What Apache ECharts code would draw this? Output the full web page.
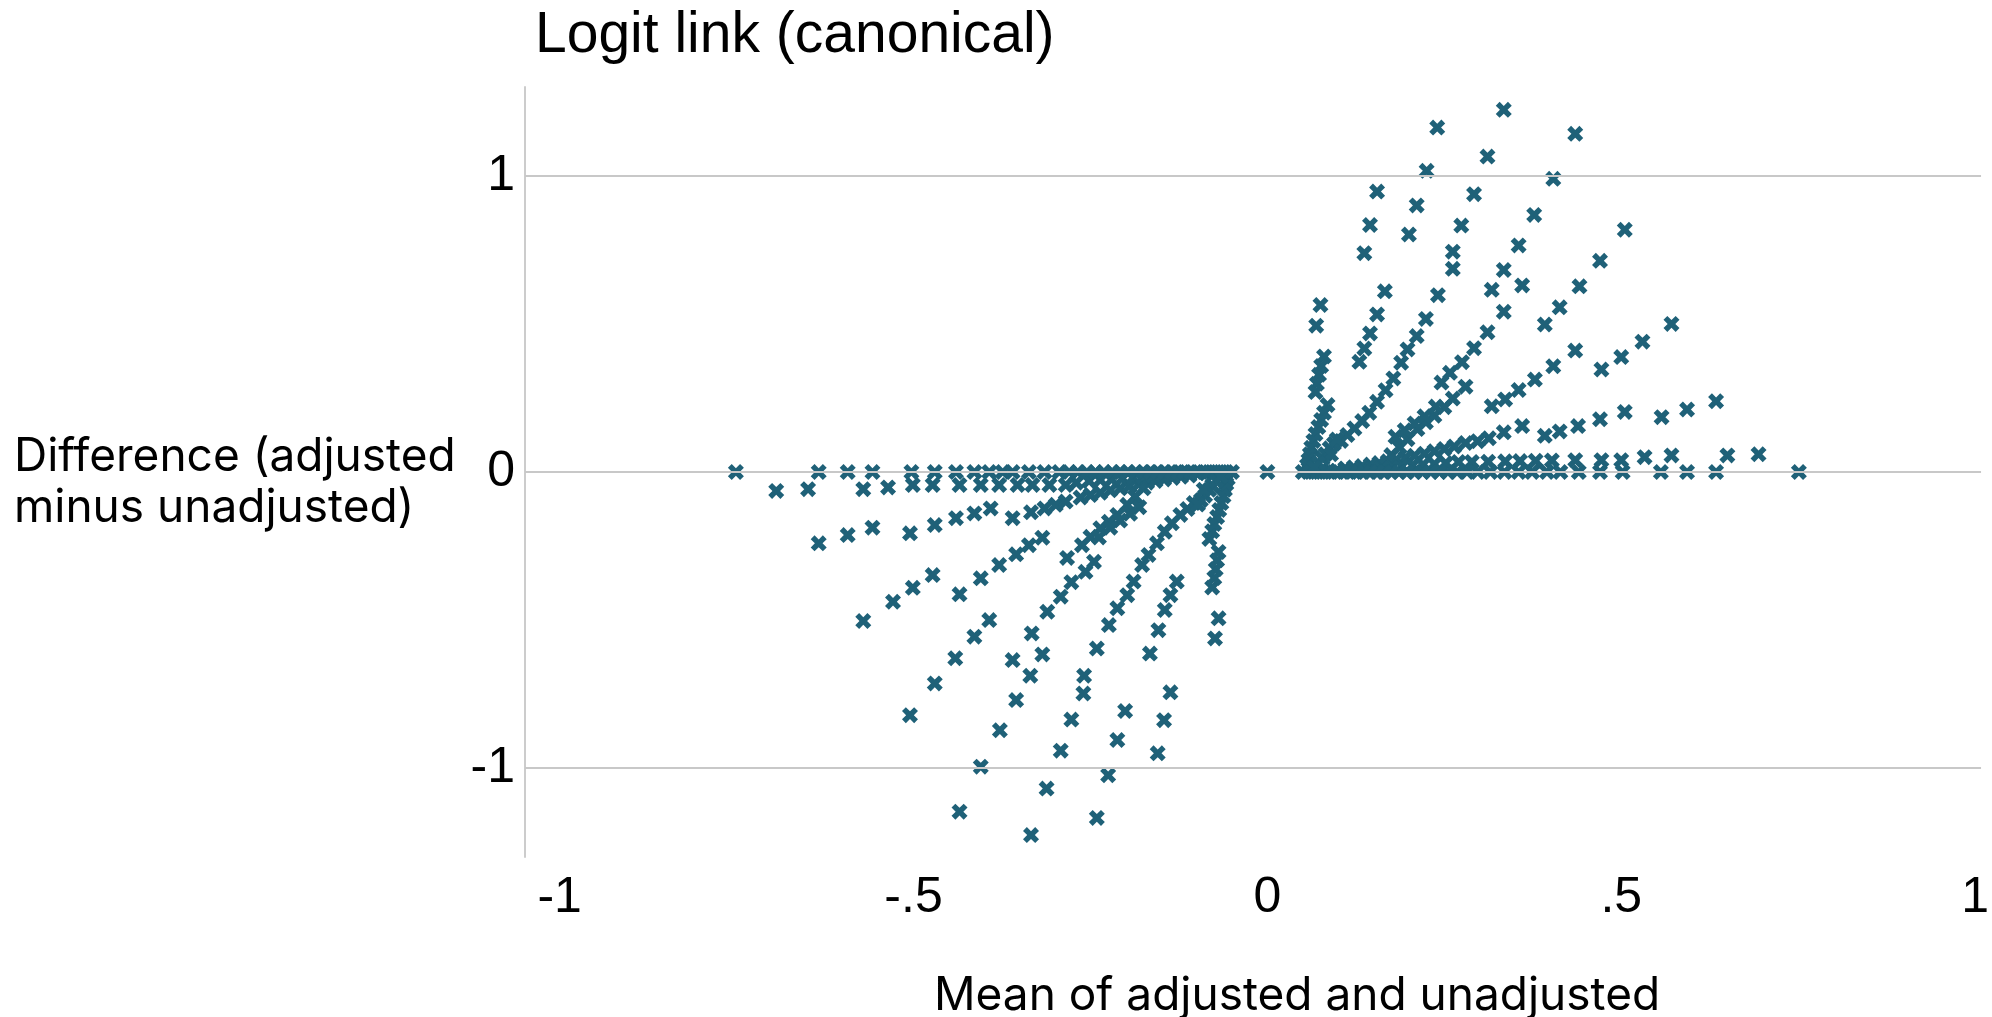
<!DOCTYPE html>
<html><head><meta charset="utf-8">
<script src="https://cdn.jsdelivr.net/npm/echarts@6/dist/echarts.min.js"></script>
<style>html,body{margin:0;padding:0;background:#fff;}#c{width:1992px;height:1017px;}</style>
</head><body><div id="c"></div>
<script>
const xTicks = [-1, -0.5, 0, 0.5, 1];
const xTickLabels = ['-1', '-.5', '0', '.5', '1'];
const yTicks = [-1, 0, 1];
const yTickLabels = ['-1', '0', '1'];
const gridValues = [-1, 0, 1];

const positiveSide = [
[0.240,1.163],[0.225,1.017],[0.155,0.947],[0.211,0.900],[0.145,0.834],[0.200,0.802],[0.137,0.739],[0.262,0.744],[0.262,0.686],[0.166,0.610],[0.241,0.597],
[0.334,1.223],[0.435,1.142],[0.311,1.065],[0.404,0.990],[0.292,0.938],[0.377,0.868],[0.274,0.832],[0.505,0.818],[0.355,0.765],[0.334,0.682],[0.470,0.713],[0.317,0.615],[0.360,0.630],[0.441,0.627],
[0.571,0.500],[0.530,0.440],[0.500,0.388],[0.472,0.346],
[0.435,0.410],[0.404,0.357],[0.378,0.312],[0.355,0.277],[0.336,0.245],[0.317,0.222],
[0.413,0.556],[0.392,0.498],[0.334,0.541],[0.311,0.472],[0.292,0.418],[0.275,0.371],[0.258,0.335],[0.246,0.302],[0.280,0.288],[0.262,0.248],
[0.634,0.239],[0.593,0.211],[0.557,0.185],
[0.505,0.203],[0.470,0.178],[0.439,0.155],[0.413,0.137],[0.392,0.122],
[0.360,0.155],[0.334,0.134],[0.313,0.114],[0.297,0.104],[0.280,0.098],[0.264,0.086],
[0.694,0.060],[0.650,0.056],[0.571,0.056],[0.533,0.050],
[0.500,0.040],[0.472,0.040],[0.435,0.040],[0.402,0.039],[0.379,0.038],[0.357,0.037],[0.336,0.036],[0.312,0.035],[0.289,0.034],[0.270,0.034],
[0.751,0.000],[0.634,0.000],[0.593,0.000],[0.556,0.000],[0.502,0.000],[0.470,0.000],[0.440,0.000],[0.414,0.000],[0.395,0.000],[0.374,0.000],[0.355,0.000],[0.335,0.000],[0.315,0.000],[0.297,0.000],[0.282,0.000],[0.268,0.000],
[0.075,0.564],[0.069,0.494],[0.080,0.390],[0.076,0.358],[0.073,0.328],[0.070,0.298],[0.068,0.270],[0.085,0.226],[0.080,0.200],[0.076,0.176],[0.072,0.152],[0.068,0.128],[0.065,0.105],[0.062,0.082],[0.060,0.060],[0.058,0.040],[0.056,0.022],
[0.130,0.372],[0.137,0.417],[0.145,0.468],[0.155,0.532],
[0.104,0.105],[0.113,0.125],[0.123,0.147],[0.134,0.172],[0.144,0.200],[0.155,0.237],[0.167,0.276],[0.178,0.316],[0.189,0.369],[0.198,0.414],[0.211,0.459],[0.224,0.517],
[0.175,0.057],[0.187,0.083],[0.198,0.111],[0.212,0.145],[0.224,0.168],[0.236,0.190],[0.250,0.219],
[0.181,0.119],[0.194,0.141],[0.208,0.164],[0.222,0.188],[0.238,0.221],
[0.250,0.078],[0.236,0.070],[0.222,0.062],[0.208,0.055],[0.195,0.048],[0.182,0.042],[0.170,0.036],[0.158,0.030],[0.146,0.025],[0.134,0.020],[0.122,0.016],[0.110,0.012],
[0.252,0.030],[0.236,0.027],[0.220,0.025],[0.205,0.022],[0.190,0.019],[0.176,0.016],[0.162,0.013],[0.148,0.011],[0.135,0.009],[0.122,0.007],[0.110,0.005],[0.098,0.004],[0.087,0.003],
[0.255,0],[0.243,0],[0.231,0],[0.219,0],[0.208,0],[0.197,0],[0.186,0],[0.175,0],[0.165,0],[0.155,0],[0.145,0],[0.135,0],[0.126,0],[0.117,0],[0.108,0],[0.099,0],[0.090,0],[0.082,0],[0.074,0],[0.066,0],[0.058,0],[0.050,0],
[0.088,0.080],[0.094,0.095],[0.098,0.110],[0.082,0.060],[0.078,0.045],[0.090,0.060],[0.072,0.030],[0.066,0.015]
];

const negativeSide = [
[-0.241,-1.168],[-0.225,-1.024],[-0.155,-0.950],[-0.212,-0.905],[-0.146,-0.838],[-0.201,-0.807],[-0.137,-0.744],[-0.260,-0.748],[-0.259,-0.688],[-0.166,-0.613],[-0.241,-0.596],
[-0.334,-1.226],[-0.435,-1.147],[-0.312,-1.069],[-0.405,-0.995],[-0.292,-0.941],[-0.378,-0.872],[-0.277,-0.836],[-0.505,-0.821],[-0.355,-0.770],[-0.335,-0.688],[-0.470,-0.714],[-0.318,-0.616],[-0.360,-0.635],[-0.441,-0.629],
[-0.571,-0.503],[-0.529,-0.438],[-0.501,-0.391],[-0.473,-0.348],
[-0.435,-0.413],[-0.405,-0.359],[-0.379,-0.314],[-0.355,-0.278],[-0.337,-0.247],[-0.318,-0.222],
[-0.414,-0.556],[-0.393,-0.500],[-0.333,-0.545],[-0.311,-0.472],[-0.292,-0.421],[-0.277,-0.372],[-0.257,-0.337],[-0.245,-0.303],[-0.283,-0.290],[-0.262,-0.247],
[-0.634,-0.241],[-0.593,-0.213],[-0.558,-0.188],
[-0.505,-0.207],[-0.470,-0.179],[-0.440,-0.156],[-0.414,-0.140],[-0.391,-0.123],
[-0.360,-0.156],[-0.334,-0.136],[-0.315,-0.123],[-0.299,-0.111],[-0.285,-0.100],[-0.264,-0.086],
[-0.694,-0.064],[-0.649,-0.058],[-0.571,-0.058],[-0.536,-0.052],
[-0.501,-0.044],[-0.473,-0.044],[-0.435,-0.044],[-0.405,-0.044],[-0.379,-0.044],[-0.353,-0.044],[-0.332,-0.044],[-0.308,-0.044],[-0.285,-0.044],[-0.270,-0.036],
[-0.751,0.000],[-0.634,0.000],[-0.593,0.000],[-0.558,0.000],[-0.503,0.000],[-0.470,0.000],[-0.440,0.000],[-0.414,0.000],[-0.393,0.000],[-0.374,0.000],[-0.360,0.000],[-0.337,0.000],[-0.315,0.000],[-0.294,0.000],[-0.280,0.000],[-0.268,0.000],
[-0.074,-0.562],[-0.069,-0.494],[-0.078,-0.390],[-0.075,-0.358],[-0.073,-0.328],[-0.071,-0.298],[-0.069,-0.270],[-0.082,-0.226],[-0.078,-0.200],[-0.075,-0.176],[-0.071,-0.152],[-0.068,-0.128],[-0.065,-0.105],[-0.062,-0.082],[-0.060,-0.060],[-0.058,-0.040],[-0.056,-0.022],
[-0.128,-0.370],[-0.137,-0.416],[-0.145,-0.466],[-0.154,-0.534],
[-0.104,-0.105],[-0.113,-0.125],[-0.123,-0.145],[-0.135,-0.173],[-0.145,-0.202],[-0.156,-0.241],[-0.168,-0.280],[-0.177,-0.314],[-0.189,-0.370],[-0.198,-0.416],[-0.212,-0.460],[-0.224,-0.517],
[-0.175,-0.055],[-0.187,-0.083],[-0.198,-0.111],[-0.212,-0.145],[-0.224,-0.168],[-0.236,-0.190],[-0.250,-0.219],
[-0.181,-0.119],[-0.194,-0.141],[-0.208,-0.164],[-0.222,-0.188],[-0.238,-0.221],
[-0.250,-0.078],[-0.236,-0.070],[-0.222,-0.062],[-0.208,-0.055],[-0.195,-0.048],[-0.182,-0.042],[-0.170,-0.036],[-0.158,-0.030],[-0.146,-0.025],[-0.134,-0.020],[-0.122,-0.016],[-0.110,-0.012],
[-0.252,-0.030],[-0.236,-0.027],[-0.220,-0.025],[-0.205,-0.022],[-0.190,-0.019],[-0.176,-0.016],[-0.162,-0.013],[-0.148,-0.011],[-0.135,-0.009],[-0.122,-0.007],[-0.110,-0.005],[-0.098,-0.004],[-0.087,-0.003],
[-0.255,0],[-0.243,0],[-0.231,0],[-0.219,0],[-0.208,0],[-0.197,0],[-0.186,0],[-0.175,0],[-0.165,0],[-0.155,0],[-0.145,0],[-0.135,0],[-0.126,0],[-0.117,0],[-0.108,0],[-0.099,0],[-0.090,0],[-0.082,0],[-0.074,0],[-0.066,0],[-0.058,0],[-0.050,0],
[-0.088,-0.080],[-0.094,-0.095],[-0.098,-0.110],[-0.082,-0.060],[-0.078,-0.045],[-0.090,-0.060],[-0.072,-0.030],[-0.066,-0.015]
];

const originPoint = [[0, 0]];

const markerColor = '#1f6178';
const xSymbol = 'path://M0,2.4 L2.4,0 L5,2.6 L7.6,0 L10,2.4 L7.4,5 L10,7.6 L7.6,10 L5,7.4 L2.4,10 L0,7.6 L2.6,5 Z';
const tickFont = 'Liberation Sans, Arial, sans-serif';
const titleFont = 'Inter, Noto Sans, sans-serif';

const chart = echarts.init(document.getElementById('c'), null, {renderer: 'canvas'});
const seriesBase = {
  type: 'scatter', symbol: xSymbol, symbolSize: 16,
  itemStyle: {color: markerColor, opacity: 1},
  z: 3, animation: false, silent: true
};
chart.setOption({
  animation: false,
  backgroundColor: '#ffffff',
  title: [
    {text: 'Logit link (canonical)', left: 530, top: 3,
     textStyle: {fontFamily: tickFont, fontSize: 57, fontWeight: 'normal', color: '#000'}},
    {text: 'Difference (adjusted\nminus unadjusted)', left: 9, top: 427,
     textStyle: {fontFamily: titleFont, fontSize: 46, fontWeight: 'normal', color: '#000', lineHeight: 51}},
    {text: 'Mean of adjusted and unadjusted', left: 929, top: 968,
     textStyle: {fontFamily: titleFont, fontSize: 46, fontWeight: 'normal', color: '#000'}}
  ],
  grid: {left: 525, right: 4, top: 87, bottom: 160, containLabel: false},
  xAxis: {
    type: 'value', min: -1.049, max: 1.0084,
    axisLine: {show: false}, axisTick: {show: false}, splitLine: {show: false},
    axisLabel: {
      customValues: xTicks, margin: 16,
      formatter: v => xTickLabels[xTicks.findIndex(t => Math.abs(t - v) < 1e-9)],
      fontFamily: tickFont, fontSize: 50, color: '#000'
    }
  },
  yAxis: {
    type: 'value', min: -1.3, max: 1.3,
    axisLine: {show: true, onZero: false, lineStyle: {color: '#cccccc', width: 2}},
    axisTick: {show: false}, splitLine: {show: false},
    axisLabel: {
      customValues: yTicks, margin: 10,
      formatter: v => yTickLabels[yTicks.findIndex(t => Math.abs(t - v) < 1e-9)],
      fontFamily: tickFont, fontSize: 50, color: '#000'
    }
  },
  series: [
    {type: 'scatter', data: [], z: 1, silent: true,
     markLine: {silent: true, symbol: 'none', animation: false,
       label: {show: false},
       lineStyle: {color: '#c8c8c8', width: 2, type: 'solid'},
       data: gridValues.map(v => ({yAxis: v}))}},
    Object.assign({}, seriesBase, {data: negativeSide}),
    Object.assign({}, seriesBase, {data: positiveSide}),
    Object.assign({}, seriesBase, {data: originPoint})
  ]
});
</script></body></html>
